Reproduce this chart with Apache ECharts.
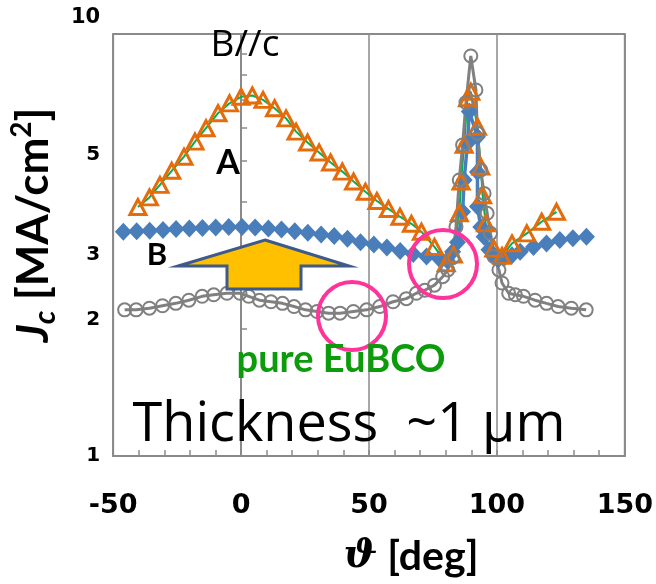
<!DOCTYPE html>
<html>
<head>
<meta charset="utf-8">
<script src="https://cdn.jsdelivr.net/npm/echarts@6.0.0/dist/echarts.min.js"></script>
<style>
  html, body { margin: 0; padding: 0; background: #fff; }
  #chart { width: 656px; height: 584px; }
</style>
</head>
<body>
<div id="chart"></div>
<script>
// Sample A: angle (deg) and Jc (MA/cm^2)
const angleA = [-40.3, -35.8, -31.7, -27.1, -22.3, -18.0, -13.7, -9.0, -4.5, 0.0,
  4.4, 8.6, 13.1, 17.6, 21.5, 26.0, 30.5, 35.0, 39.6, 44.0,
  48.6, 53.1, 57.6, 62.1, 66.6, 70.5, 75.6, 80.2, 83.0, 85.3,
  86.0, 87.2, 88.5, 89.8, 92.4, 93.7, 94.4, 95.6, 98.8, 102.0,
  105.9, 111.7, 117.5, 123.3];
const jcA = [3.89, 4.10, 4.39, 4.74, 5.12, 5.56, 5.98, 6.49, 6.85, 7.10,
  7.15, 6.98, 6.67, 6.31, 5.87, 5.53, 5.24, 4.96, 4.72, 4.47,
  4.23, 4.02, 3.85, 3.69, 3.55, 3.40, 3.13, 2.86, 3.00, 3.76,
  4.47, 5.46, 7.04, 7.30, 6.03, 4.85, 4.15, 3.56, 3.10, 2.98,
  3.19, 3.37, 3.59, 3.79];

// Sample B
const angleB = [-46.0, -40.8, -35.7, -30.5, -25.4, -20.2, -15.1, -9.9, -4.8, 0.4,
  5.5, 10.7, 15.8, 21.0, 26.1, 31.3, 36.4, 41.6, 46.7, 51.9,
  57.0, 62.2, 67.3, 72.5, 77.6, 80.5, 82.7, 84.6, 86.6, 87.2,
  88.5, 89.2, 92.4, 92.4, 92.4, 93.7, 95.0, 96.9, 98.8, 100.5,
  102.7, 105.9, 109.1, 114.3, 119.4, 124.6, 129.7, 135.0];
const jcB = [3.40, 3.41, 3.42, 3.43, 3.45, 3.46, 3.47, 3.48, 3.49, 3.49,
  3.48, 3.46, 3.44, 3.41, 3.38, 3.35, 3.32, 3.27, 3.21, 3.17,
  3.12, 3.06, 3.01, 2.97, 2.93, 2.91, 3.05, 3.21, 3.79, 4.51,
  5.51, 6.55, 5.71, 4.71, 3.90, 3.49, 3.31, 3.08, 2.97, 2.92,
  2.94, 2.99, 3.05, 3.13, 3.19, 3.25, 3.28, 3.31];

// Pure EuBCO reference film
const anglePure = [-45.5, -41.0, -35.8, -30.7, -25.5, -20.4, -15.2, -10.7, -5.5, -0.4,
  3.0, 7.2, 11.7, 16.2, 20.7, 25.2, 29.7, 34.2, 38.7, 43.9,
  49.1, 54.2, 59.4, 64.6, 68.5, 71.8, 75.6, 78.8, 80.8, 82.7,
  84.0, 85.3, 86.6, 87.9, 89.8, 91.8, 92.4, 93.7, 95.0, 96.2,
  97.5, 98.8, 100.8, 102.0, 104.6, 107.2, 110.4, 114.9, 119.4, 123.9,
  129.1, 134.9];
const jcPure = [2.22, 2.22, 2.24, 2.27, 2.30, 2.34, 2.39, 2.41, 2.43, 2.43,
  2.39, 2.34, 2.32, 2.30, 2.26, 2.22, 2.20, 2.18, 2.18, 2.20,
  2.22, 2.26, 2.32, 2.36, 2.43, 2.47, 2.54, 2.66, 2.76, 2.95,
  3.49, 4.51, 5.46, 6.88, 8.87, 7.37, 5.82, 4.76, 4.19, 3.76,
  3.37, 2.97, 2.76, 2.57, 2.43, 2.41, 2.39, 2.34, 2.30, 2.26,
  2.24, 2.22];

// Axis ticks and labels
const xTickLabels = [-50, 0, 50, 100, 150];
const yTickLabels = [1, 2, 3, 5, 10];
const yTicks = [1, 2, 3, 4, 5, 6, 7, 8, 9, 10];

const zip = (xs, ys) => xs.map((x, i) => [x, ys[i]]);

const AXIS_GRAY = '#8a8a8a';
const LABEL_FONT = 'Lato, "Open Sans", sans-serif';
const TICK_FONT = '"DejaVu Sans", sans-serif';
const tickLabel = (size) => ({ fontFamily: TICK_FONT, fontWeight: 'bold', fontSize: size, color: '#000' });
const boldLabel = (size) => ({ fontFamily: LABEL_FONT, fontWeight: 'bold', fontSize: size, color: '#000' });

const chart = echarts.init(document.getElementById('chart'), null, { renderer: 'canvas' });

chart.setOption({
  animation: false,
  backgroundColor: '#fff',
  grid: {
    left: 110, right: 29, top: 34, bottom: 128,
    show: true, borderColor: AXIS_GRAY, borderWidth: 2, backgroundColor: 'transparent'
  },
  xAxis: {
    type: 'value', min: -50, max: 150, interval: 50,
    axisLine: { show: true, lineStyle: { color: AXIS_GRAY, width: 2 } },
    axisTick: { show: true, inside: true, length: 6, lineStyle: { color: AXIS_GRAY, width: 1.5 } },
    minorTick: { show: true, splitNumber: 5, length: 6, lineStyle: { color: AXIS_GRAY, width: 1.5 } },
    minorSplitLine: { show: false },
    axisLabel: {
      customValues: xTickLabels, margin: 36,
      formatter: (v) => '{v|' + v + '}',
      rich: { v: tickLabel(27) }
    },
    splitLine: { show: true, lineStyle: { color: AXIS_GRAY, width: 1.5 } },
    name: '{th|ϑ}{t| [deg]}',
    nameLocation: 'middle', nameGap: 80,
    nameTextStyle: {
      padding: [0, 0, 0, 84],
      rich: {
        th: { fontFamily: '"DejaVu Serif", serif', fontStyle: 'italic', fontWeight: 'bold', fontSize: 40, color: '#000' },
        t: boldLabel(41)
      }
    }
  },
  yAxis: {
    type: 'log', logBase: 10, min: 1, max: 10,
    axisLine: { show: true, lineStyle: { color: AXIS_GRAY, width: 2 } },
    axisTick: { show: true, inside: true, length: 6, customValues: yTicks,
      lineStyle: { color: AXIS_GRAY, width: 1.5 } },
    axisLabel: {
      customValues: yTickLabels, margin: 13,
      formatter: function (v) {
        if (v === 10) return '{up10|10}';
        if (v === 5) return '{up5|5}';
        if (v === 2) return '{up2|2}';
        return '{n|' + v + '}';
      },
      rich: {
        n: tickLabel(20),
        up10: Object.assign(tickLabel(21), { padding: [0, 0, 32, 0] }),
        up5: Object.assign(tickLabel(20), { padding: [0, 0, 12, 0] }),
        up2: Object.assign(tickLabel(20), { padding: [0, 0, 18, 0] })
      }
    },
    splitLine: { show: false },
    name: '{j|J}{c|c}{t| [MA/cm}{s|2}{t|]}',
    nameLocation: 'middle', nameGap: 48, nameRotate: 90,
    nameTextStyle: {
      padding: [0, 0, 0, 40],
      rich: {
        j: { fontFamily: LABEL_FONT, fontStyle: 'italic', fontWeight: 'bold', fontSize: 44, color: '#000', lineHeight: 52 },
        c: { fontFamily: LABEL_FONT, fontStyle: 'italic', fontWeight: 'bold', fontSize: 30, color: '#000', verticalAlign: 'bottom', lineHeight: 40 },
        t: { fontFamily: LABEL_FONT, fontWeight: 'bold', fontSize: 44, color: '#000', lineHeight: 52 },
        s: { fontFamily: LABEL_FONT, fontWeight: 'bold', fontSize: 28, color: '#000', verticalAlign: 'top', lineHeight: 36 }
      }
    }
  },
  series: [
    {
      name: 'B', type: 'line', data: zip(angleB, jcB),
      symbol: 'diamond', symbolSize: [17, 18], showAllSymbol: true,
      itemStyle: { color: '#4a7ebb' },
      lineStyle: { color: '#4a7ebb', width: 3.5 }
    },
    {
      name: 'A', type: 'line', data: zip(angleA, jcA),
      symbol: 'triangle', symbolSize: [16, 15], showAllSymbol: true,
      itemStyle: { color: 'rgba(0,0,0,0)', borderColor: '#e46c0a', borderWidth: 3 },
      lineStyle: { color: '#00b050', width: 2 }
    },
    {
      name: 'pure EuBCO', type: 'line', data: zip(anglePure, jcPure),
      symbol: 'circle', symbolSize: 13, showAllSymbol: true,
      itemStyle: { color: 'rgba(0,0,0,0)', borderColor: '#808080', borderWidth: 2 },
      lineStyle: { color: '#808080', width: 3 }
    }
  ],
  graphic: [
    { type: 'polygon', z: 100,
      shape: { points: [[265, 240], [349, 266], [301, 266], [301, 289], [227, 289], [227, 266], [178, 266]] },
      style: { fill: '#ffc000', stroke: '#3d5a8a', lineWidth: 3, lineJoin: 'miter' } },
    { type: 'circle', z: 100, shape: { cx: 352, cy: 316, r: 34 },
      style: { fill: 'none', stroke: '#ff3399', lineWidth: 4 } },
    { type: 'circle', z: 100, shape: { cx: 443, cy: 264, r: 34 },
      style: { fill: 'none', stroke: '#ff3399', lineWidth: 4 } },
    { type: 'text', z: 100, x: 245, y: 45,
      style: { text: 'B//c', fontSize: 37, fontFamily: '"Open Sans", sans-serif', fill: '#000', align: 'center', verticalAlign: 'middle' } },
    { type: 'text', z: 100, x: 228, y: 163,
      style: { text: 'A', fontSize: 34, fontWeight: 'bold', fontFamily: LABEL_FONT, fill: '#000', align: 'center', verticalAlign: 'middle' } },
    { type: 'text', z: 100, x: 157, y: 255,
      style: { text: 'B', fontSize: 31, fontWeight: 'bold', fontFamily: LABEL_FONT, fill: '#000', align: 'center', verticalAlign: 'middle' } },
    { type: 'text', z: 100, x: 341, y: 360,
      style: { text: 'pure EuBCO', fontSize: 38, fontWeight: 'bold', fontFamily: LABEL_FONT, fill: '#0b9b0b', align: 'center', verticalAlign: 'middle' } },
    { type: 'text', z: 100, x: 349, y: 426,
      style: { text: 'Thickness  ~1 μm', fontSize: 54, fontFamily: '"Open Sans", sans-serif', fill: '#000', align: 'center', verticalAlign: 'middle' } }
  ]
});
</script>
</body>
</html>
